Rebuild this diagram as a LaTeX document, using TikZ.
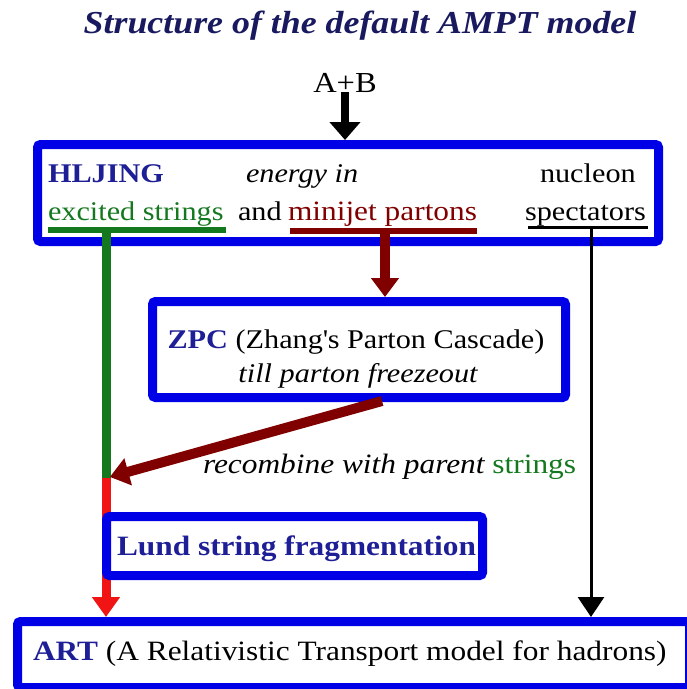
\documentclass[tikz,border=0pt]{standalone}
\usepackage{fontspec}
\setmainfont{Liberation Serif}[FakeStretch=1.12]
\usetikzlibrary{arrows.meta,calc}

\definecolor{boxblue}{RGB}{0,0,230}
\definecolor{lblue}{RGB}{30,30,150}
\definecolor{ttlblue}{RGB}{25,25,95}
\definecolor{strgreen}{RGB}{20,120,30}
\definecolor{jetred}{RGB}{128,0,0}
\definecolor{fragred}{RGB}{240,20,20}

\newcommand\bodysize{\fontsize{27pt}{32pt}\selectfont}
\newcommand\widesize{\fontsize{28pt}{33pt}\selectfont}

\begin{document}
\begin{tikzpicture}[x=1pt,y=-1pt,
  txt/.style={inner sep=0pt, outer sep=0pt, anchor=base west, font=\bodysize},
  ctxt/.style={txt, anchor=base},
  box/.style={draw=boxblue, line width=9pt, rounded corners=3pt, inner sep=0pt},
  uline/.style={line width=6pt},
  abarrow/.style={line width=8pt, -{Triangle[length=18pt,width=30pt]}},
  greenline/.style={strgreen, line width=9pt},
  redarrow/.style={fragred, line width=9pt, -{Triangle[length=20pt,width=27pt]}},
  jetarrow/.style={jetred, line width=10pt, -{Triangle[length=19pt,width=27pt]}},
  specarrow/.style={black, line width=3pt, -{Triangle[length=20pt,width=26pt]}}
]
\useasboundingbox (0,0) rectangle (687,689);

% title and incoming nuclei
\node[ctxt, font=\fontsize{32pt}{38pt}\selectfont\bfseries\itshape, text=ttlblue] (ttl) at (360,33) {Structure of the default AMPT model};
\node[ctxt, font=\fontsize{29pt}{34pt}\selectfont] (ab) at (345,92) {A+B};

% stage boxes
\node[box, minimum width=621pt, minimum height=97pt] (hij) at (348,193) {};
\node[box, minimum width=413pt, minimum height=96pt] (zpc) at (359,349.5) {};
\node[box, minimum width=672pt, minimum height=66pt] (art) at (353.5,654.5) {};

% HIJING contents
\node[txt, text=lblue] (hl) at (48,182) {\bfseries HLJING};
\node[txt] (en) at (246,182) {\itshape energy in};
\node[txt] (nu) at (540,182) {nucleon};
\node[txt, text=strgreen] (ex) at (48,220) {excited strings};
\node[txt] (and) at (238,220) {and};
\node[txt, text=jetred, font=\widesize] (mj) at (288,220) {minijet partons};
\node[txt] (sp) at (525,220) {spectators};

% ZPC contents
\node[ctxt] (zl1) at (356,348) {\textcolor{lblue}{\bfseries ZPC} (Zhang\textquotesingle s Parton Cascade)};
\node[ctxt] (zl2) at (358,382) {\itshape till parton freezeout};

% recombination label
\node[txt, font=\widesize] (rc) at (203,473) {\itshape recombine with parent \textcolor{strgreen}{\upshape strings}};

% ART contents
\node[txt, font=\widesize] (at) at (33,660) {\textcolor{lblue}{\bfseries ART} (A Relativistic Transport model for hadrons)};

% underlines
\draw[uline, strgreen] ($(ex.base west)+(0,10)$) -- ($(ex.base east)+(2,10)$);
\draw[uline, jetred] ($(mj.base west)+(2,10.5)$) -- ($(mj.base east)+(0,10.5)$);
\draw[black, line width=3pt] ($(sp.base west)+(3,7)$) -- ($(sp.base east)+(2,7)$);

% flow connectors
\coordinate (gtop) at (106,230);
\coordinate (join) at (106,478);
\coordinate (rtop) at (385,230);
\coordinate (ktop) at (591,227);
\coordinate (zout) at (382,401);

\draw[abarrow] (ab.south) -- (ab.south |- hij.north);
\draw[greenline] (gtop) -- (join);
\draw[redarrow] (join) -- (join |- art.north);
\draw[jetarrow] (rtop) -- (rtop |- zpc.north);
\draw[specarrow] (ktop) -- (ktop |- art.north);
\draw[jetarrow, shorten >=4pt] (zout) -- (join);

% fragmentation box sits over the red line
\node[box, minimum width=376pt, minimum height=59pt] (lund) at (294.5,546) {};
\node[ctxt, text=lblue, font=\widesize] (lt) at (296.5,555) {\bfseries Lund string fragmentation};
\end{tikzpicture}
\end{document}
